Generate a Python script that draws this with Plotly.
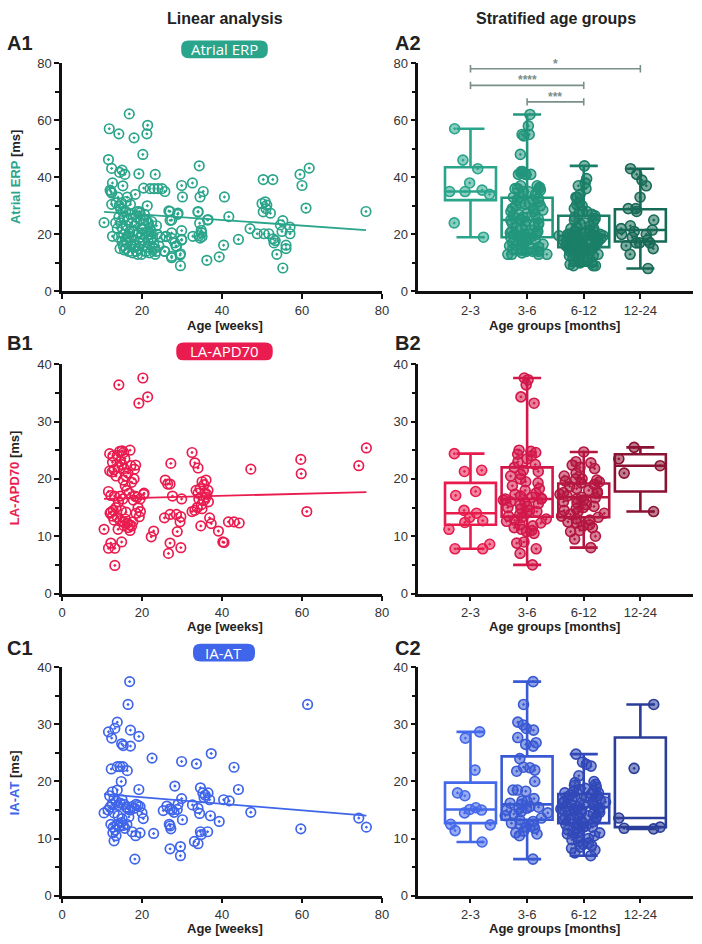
import plotly.graph_objects as go

W, H = 702, 944

# ------------------------------------------------------------------ data
groups = ["2-3", "3-6", "6-12", "12-24"]

# A1: Atrial ERP vs age (weeks, ms)
erp_scatter = [
    (10.5, 24.1), (11.8, 57), (11.6, 46.2), (12.4, 43.1), (12.6, 38), (12.2, 35), (12.4, 34.5), (12.0, 35.5),
    (12.4, 30.5), (12.6, 19.3), (13.4, 24), (14.2, 55.2), (14.4, 41.7), (15.0, 42.5), (15.7, 41), (15.2, 37),
    (16.8, 62.2), (18.0, 53.8), (21.2, 55.2), (21.4, 58.2), (20.2, 48), (19.2, 41.2), (23.3, 41), (20.4, 36.2),
    (22.0, 36), (23.0, 36), (24.0, 36), (25.0, 36), (25.7, 35), (18.3, 34), (21.3, 30), (16.3, 33),
    (13.5, 31), (14.0, 33), (14.3, 30), (14.6, 29), (14.9, 31), (15.2, 28), (15.5, 26), (14.2, 26), (14.7, 24),
    (15.1, 22), (15.4, 20), (15.8, 18), (15.3, 16), (15.6, 14.5), (16.0, 15), (16.3, 17), (16.6, 19), (16.9, 21),
    (16.1, 23), (16.5, 25), (17.0, 27), (17.4, 24), (17.7, 21), (18.0, 18), (18.3, 16), (18.6, 14), (18.9, 13),
    (19.2, 15), (19.4, 17), (19.6, 19), (19.8, 22), (18.5, 26), (18.8, 28), (19.3, 28), (19.7, 25), (20.0, 20),
    (20.3, 18), (20.6, 16), (20.9, 14), (21.2, 15.5), (21.5, 18), (21.8, 20), (22.0, 22), (22.3, 21), (22.6, 19),
    (22.9, 17), (23.1, 15), (23.3, 13), (21.0, 25), (21.6, 24), (22.4, 24.5), (20.6, 27), (17.1, 30.5), (16.0, 31.5),
    (17.3, 16), (16.2, 19), (19.0, 20.5), (20.2, 22), (21.8, 13.5), (22.6, 15.5), (23.5, 14), (23.8, 20), (14.1, 19),
    (13.8, 22), (17.6, 13.5), (19.9, 13), (15.9, 28), (18.1, 23), (19.5, 27.5), (20.8, 20.5), (21.4, 21), (22.2, 18.5),
    (16.7, 14), (17.9, 15.5), (15.0, 17.5), (24.2, 16), (24.5, 19), (23.6, 23), (20.4, 25), (18.7, 24), (17.2, 19),
    (14.5, 15), (27.0, 28), (29.0, 27.4), (27.4, 25), (26.0, 19.3), (27.4, 20.5), (28.2, 17), (29.9, 21.3),
    (25.6, 14.1), (27.4, 11.8), (28.5, 15.9), (29.6, 13.2), (29.6, 9), (29.9, 18.2), (32.7, 19.3), (29.9, 37.1),
    (30.1, 33.1), (32.6, 38), (34.3, 44), (35.3, 35), (34.5, 33.1), (34.0, 28), (34.4, 23.9), (34.9, 20.5),
    (34.5, 18.7), (35.0, 19.2), (34.2, 19.5), (36.4, 25), (36.2, 10.9), (39.3, 12.1), (40.4, 16.2), (40.6, 33.1),
    (41.7, 26.2), (44.1, 18.2), (47.0, 22), (48.8, 20.2), (50.5, 20.2), (52.7, 39.2), (50.3, 39.2), (50.0, 30.8),
    (50.8, 31.4), (51.2, 30.2), (50.3, 27.9), (52.1, 27.4), (51.0, 29), (51.7, 20.2), (53.0, 17), (52.8, 18.4),
    (53.3, 17.8), (53.7, 13), (54.6, 23.3), (55.2, 24.8), (55.0, 21), (55.2, 8.2), (56.0, 16.2), (56.0, 15),
    (57.0, 22.5), (57.0, 20.2), (59.5, 41), (60.0, 37.1), (61.8, 43.2), (61.0, 29.2), (76.0, 28),
    (26.7, 28.2), (28.9, 27), (27.0, 24.9), (25.9, 19.2), (27.4, 18.6), (29.9, 18), (28.6, 15.8), (29.5, 12.7),
    (27.4, 12.3), (25.7, 14), (34.0, 27.8), (36.5, 25.2), (34.8, 21.4),
]
erp_fit = (28.93, -0.0977)  # intercept, slope

# B1: LA-APD70 vs age
apd_scatter = [
    (14.2, 36.4), (20.2, 37.6), (19.2, 33.2), (21.4, 34.3), (17, 25), (14.4, 24.8), (15, 24.9), (15.4, 24.6),
    (11.9, 24.4), (12.7, 24), (13.8, 24.1), (18.4, 22.4), (18.1, 21.7), (17.4, 19.4), (12.6, 22.9), (11.9, 21.4),
    (11.6, 17.8), (12.2, 17.1), (10.5, 11.2), (11.6, 7.9), (13.2, 7.9), (12.2, 8.8), (13.2, 4.9), (14, 11.2),
    (14.9, 9), (20.4, 17.3), (19.6, 14.3), (19.3, 13.4), (22.3, 9.9), (22.9, 10.9), (25.8, 19.8), (26.4, 19.1),
    (27, 19.1), (27.2, 22.7), (27.6, 17), (29.9, 16.5), (25.6, 13.2), (27, 13.8), (28.6, 13.8), (29.7, 13.4),
    (29.5, 12.5), (28.8, 10.8), (27, 8.8), (26.6, 7), (29.7, 8), (32.5, 24.6), (33.2, 22.8), (34, 21.9),
    (32.5, 14.3), (34.7, 11.8), (36.9, 13.2), (37.3, 12.2), (39.1, 10.9), (40.2, 9.0), (40.5, 8.9), (41.6, 12.5),
    (43, 12.5), (44.3, 12.3), (47.2, 21.7), (59.7, 23.4), (59.8, 20.9), (61.2, 14.3), (74.2, 22.3), (76.1, 25.4),
    (12.5, 21.2), (13, 21.6), (13.5, 20.5), (14, 22), (14.5, 23), (15, 22.5), (15.5, 21.8), (16, 20.5),
    (15.3, 19.8), (15.8, 18.8), (16.2, 18), (16.8, 17.5), (14.6, 17), (15.2, 16.5), (14.1, 16), (13.5, 15),
    (12.2, 14.2), (12.6, 13.5), (13, 12.8), (13.8, 13.3), (14.5, 12.7), (15.2, 12.5), (15.8, 13), (16.3, 12.3),
    (16.6, 11.5), (17, 11), (17.4, 11.8), (16, 14.2), (17.8, 16.3), (18.2, 17), (18.8, 16.8), (19.5, 16.5),
    (19, 15), (20.5, 17.5), (17.2, 22.3), (16.5, 21), (18, 20), (15.7, 23.5), (13.1, 17), (12, 14),
    (12.8, 14.5), (14.8, 14.5), (17.7, 12.5), (16.9, 12), (15.5, 11.8), (18.5, 14),
    (33.5, 18), (34, 17.5), (34.5, 18.3), (35, 19.5), (35.5, 19), (36, 19.8), (36.5, 18), (34.2, 16.5),
    (34.8, 15.5), (35.4, 16.2), (36, 16.8), (36.6, 16), (33.8, 15), (35, 14.8), (36.2, 17.3), (35.7, 17.6),
    (33.2, 14.5),
]
apd_fit = (16.31, 0.0183)

# C1: IA-AT vs age
at_scatter = [
    (16.9, 37.5), (16.5, 33.5), (11.6, 28.7), (12.4, 27.6), (13.2, 29.3), (13.8, 30.4), (17.1, 29), (19.2, 27.9),
    (17.1, 26.2), (14.9, 26.6), (15.3, 26.3), (12.3, 22.2), (13.8, 22.6), (14.5, 22.6), (15.2, 22.6), (16.3, 21.9),
    (14.8, 20), (19.2, 18.6), (12.6, 18.2), (11.9, 17.5), (13.8, 18.5), (10.5, 14.5), (13, 9.6), (18.2, 6.4),
    (22.9, 10.9), (22.5, 24.1), (25.3, 14.9), (28.2, 19.2), (29.9, 23.5), (29.9, 17), (30.1, 13.3), (27, 12.2),
    (27.2, 11.7), (27, 8.2), (29.6, 8.6), (29.6, 7), (33.6, 23.1), (32.6, 15.9), (33.1, 9.5), (34, 9.1),
    (34.6, 18.9), (35.2, 18), (35.8, 17.6), (36.5, 18), (36.9, 16.8), (35.5, 17.2), (34.6, 11.2), (34.8, 10.7),
    (36.4, 11.2), (37.3, 24.9), (34, 15.3), (34.4, 14.4), (37.1, 14), (39.3, 13), (40.4, 16.8), (41.8, 16.6),
    (43, 22.5), (44.1, 18.6), (47.2, 14.6), (59.7, 11.7), (61.4, 33.5), (74.2, 13.6), (76.1, 12),
    (11.5, 15), (12, 15.5), (12.5, 16), (13, 17), (13.5, 16.5), (14, 15.8), (14.5, 16.2), (15, 16.8),
    (15.5, 16), (16, 15.5), (16.5, 15.2), (17, 15), (17.5, 15.6), (18, 15.3), (18.5, 16), (19, 15.8),
    (19.5, 15.6), (20, 14.5), (20.3, 13.5), (12.2, 12.5), (12.8, 12), (13.3, 11.5), (13.8, 12.5), (14.3, 12.2),
    (14.8, 12.8), (15.3, 12.3), (15.7, 11.8), (16.2, 12.5), (12.7, 11), (13.5, 10.5), (17.5, 11.2), (18.4, 10.5),
    (19.5, 11), (14, 14), (15, 13.5), (16.7, 13.8), (13, 14.5), (26.2, 15.7), (27, 15.2), (27.5, 15),
    (28, 14.6), (28.8, 15.1), (26.8, 12.5), (29, 16),
]
at_fit = (18.41, -0.0579)

# A2 groups (ms)
erp_g = [
    [57, 46, 43, 38, 35, 35, 35.5, 34, 24, 19],
    [62, 58, 55, 55, 54.5, 48, 42, 42, 41.5, 41, 41, 41, 41, 37, 37, 36.5, 36, 36, 36, 35.5, 35, 35, 34, 33, 33,
     32.5, 32, 32, 31.5, 31, 31, 30.5, 30, 30, 29, 29, 28.5, 28, 28, 27.5, 27, 27, 26.5, 26, 25.5, 25, 25, 25, 24.5,
     24, 24, 23.5, 23, 23, 22.5, 22, 21.5, 21, 21, 21, 20.5, 20, 20, 20, 19.5, 19, 19, 19, 18.5, 18, 18, 17.5, 17,
     17, 16.5, 16, 16, 15.5, 15, 15, 15, 14.5, 14, 14, 14, 13.5, 13, 13, 13, 13],
    [44, 39.5, 38, 37, 36, 34, 33, 33, 31, 30.5, 30, 29, 28, 28, 27, 27, 26.5, 26, 25.5, 25, 24.5, 24, 23.5, 23,
     22.5, 22, 22, 21.5, 21, 21, 21, 20.5, 20.5, 20, 20, 20, 20, 19.5, 19.5, 19.5, 19, 19, 19, 19, 18.5, 18.5,
     18.5, 18, 18, 18, 18, 17.5, 17.5, 17, 17, 17, 17, 16.5, 16.5, 16, 16, 16, 16, 15.5, 15.5, 15.5, 15, 15, 15,
     14.5, 14.5, 14, 14, 14, 13.5, 13, 13, 12.5, 12.5, 12, 12, 11.5, 11, 11, 10.5, 10, 10, 9.5, 9, 9, 9],
    [43, 41, 39, 37, 33, 29, 29, 28, 25, 23, 22, 21.5, 21, 20, 20, 19, 18, 17, 17, 17, 16, 15, 13, 8],
]
erp_stats = {"q1": [32, 19, 15.5, 17.5], "med": [35, 25, 19.5, 21.5], "q3": [43.5, 32.8, 26.5, 28.8],
             "lo": [19, 13, 9, 8], "hi": [57, 62, 44, 43]}
erp_sig = [(0, 3, 78, "*"), (0, 2, 72.2, "****"), (1, 2, 66.4, "***")]

# B2 groups
apd_g = [
    [24.4, 21.5, 21.3, 17.8, 17.1, 14.5, 14, 13.3, 12.7, 12.4, 11.2, 8.6, 7.8, 7.8],
    [37.6, 37.3, 36.4, 34.3, 33.2, 25, 24.8, 24.6, 24.3, 24, 23.5, 23, 22.5, 22, 21.5, 21.3, 20.8, 20.5, 20, 19.5,
     19.3, 18.8, 18.3, 18, 17.5, 17.3, 17, 16.8, 16.6, 16.5, 16.5, 16.3, 16, 16, 15.7, 15.5, 15.2, 15, 14.8, 14.5,
     14.3, 14, 13.8, 13.5, 13.3, 13, 12.8, 12.6, 12.3, 12, 11.8, 11.5, 11.2, 11, 10.8, 10.5, 9, 8.8, 7.8, 7, 5],
    [24.7, 23, 22.8, 22.4, 22, 21.8, 21, 20.5, 20, 20, 19.8, 19.6, 19.5, 19.3, 19, 18.7, 18.3, 18, 17.8, 17.6,
     17.5, 17.3, 17, 16.8, 16.7, 16.5, 16.3, 16, 15.8, 15.5, 15.2, 15, 14.8, 14.5, 14.3, 14, 13.8, 13.5, 13.3, 13,
     12.8, 12.5, 12.3, 12, 11.8, 11.5, 11, 10.8, 10, 9.5, 8],
    [25.5, 23.5, 22.3, 21, 14.3],
]
apd_stats = {"q1": [12, 13.4, 13.3, 17.8], "med": [14, 16.5, 16.8, 22.3], "q3": [19.3, 22, 19.2, 24.3],
             "lo": [7.8, 5, 8, 14.3], "hi": [24.4, 37.6, 24.7, 25.5]}

# C2 groups
at_g = [
    [28.7, 27.6, 22, 18, 17.5, 15.4, 15.1, 15, 14.5, 12.5, 12.4, 11.4, 9.4],
    [37.5, 33.5, 30.4, 29.9, 29.3, 29, 27.7, 26.8, 26.5, 26.2, 24, 22.5, 22.4, 22, 21.8, 20, 18.5, 18.5, 18.3, 17,
     16.6, 16.5, 16.2, 16, 15.6, 15.5, 15.3, 15.2, 15, 14.7, 14.5, 14.3, 14, 13.6, 13.3, 13, 12.7, 12.5, 12.3, 12,
     11.8, 11.3, 11, 10.8, 10.5, 6.4],
    [24.8, 23.4, 23, 22.7, 21, 20, 19.8, 19.5, 19.3, 19, 18.8, 18.6, 18.4, 18.2, 18, 18, 17.8, 17.6, 17.5, 17.4,
     17.2, 17, 17, 16.8, 16.6, 16.5, 16.4, 16.2, 16, 16, 15.9, 15.8, 15.6, 15.5, 15.4, 15.3, 15.2, 15, 15, 14.9,
     14.8, 14.6, 14.5, 14.4, 14.2, 14, 14, 13.8, 13.6, 13.5, 13.3, 13.2, 13, 13, 12.8, 12.6, 12.5, 12.4, 12.2, 12,
     12, 11.8, 11.5, 11.3, 11, 11, 10.8, 10.5, 10.2, 10, 9.8, 9.5, 9.2, 9, 8.8, 8.5, 8.3, 8, 7.5, 7],
    [33.5, 22.3, 13.6, 12, 11.7, 11.8],
]
at_stats = {"q1": [12.7, 13.3, 12.7, 12], "med": [15.1, 16, 15.5, 13.6], "q3": [19.8, 24.4, 17.8, 27.7],
            "lo": [9.4, 6.4, 7, 11.7], "hi": [28.7, 37.5, 24.8, 33.5]}

# ------------------------------------------------------------------ styling
FONT = "Liberation Sans, Arial, sans-serif"
C_ERP = "#2aa58b"
C_APD = "#ea1c4f"
C_AT = "#3f65ea"
erp_cols = ["#2aa58c", "#22967c", "#1b7f68", "#166a56"]
apd_cols = ["#e81b4d", "#d2184a", "#b41640", "#8a1232"]
at_cols = ["#4468ea", "#3a5ad4", "#3149b8", "#2a3d99"]


def hex_rgba(h, a):
    h = h.lstrip("#")
    return "rgba(%d,%d,%d,%.2f)" % (int(h[0:2], 16), int(h[2:4], 16), int(h[4:6], 16), a)


def px_x(p):
    return p / W


def px_y(p):
    return 1 - p / H


fig = go.Figure()

panels = [
    (erp_scatter, erp_fit, C_ERP, erp_g, erp_stats, erp_cols, "x", "y", "x2", "y2"),
    (apd_scatter, apd_fit, C_APD, apd_g, apd_stats, apd_cols, "x3", "y3", "x4", "y4"),
    (at_scatter, at_fit, C_AT, at_g, at_stats, at_cols, "x5", "y5", "x6", "y6"),
]

for sc, fit, col, grp, st, gcols, xl, yl, xr, yr in panels:
    ages = [p[0] for p in sc]
    vals = [p[1] for p in sc]
    fig.add_trace(go.Scatter(
        x=ages, y=vals, mode="markers", xaxis=xl, yaxis=yl,
        marker=dict(symbol="circle-open-dot", size=9.5, color=col, line=dict(width=1.7, color=col)),
        hoverinfo="skip"))
    x0, x1 = min(ages), max(ages)
    fig.add_trace(go.Scatter(
        x=[x0, x1], y=[fit[0] + fit[1] * x0, fit[0] + fit[1] * x1], mode="lines",
        xaxis=xl, yaxis=yl, line=dict(color=col, width=1.8), hoverinfo="skip"))
    for i in range(4):
        fig.add_trace(go.Box(
            y=grp[i], x0=i, width=0.9, boxpoints="all", jitter=1.0, pointpos=0,
            xaxis=xr, yaxis=yr, line=dict(color="rgba(0,0,0,0)", width=0),
            fillcolor="rgba(0,0,0,0)",
            marker=dict(symbol="circle-dot", size=10, color=hex_rgba(gcols[i], 0.55),
                        line=dict(color=gcols[i], width=1.6)),
            hoverinfo="skip"))
        fig.add_trace(go.Box(
            x=[i], q1=[st["q1"][i]], median=[st["med"][i]], q3=[st["q3"][i]],
            lowerfence=[st["lo"][i]], upperfence=[st["hi"][i]],
            width=0.9, whiskerwidth=0.55, boxpoints=False, xaxis=xr, yaxis=yr,
            line=dict(color=gcols[i], width=2.6), fillcolor="rgba(0,0,0,0)", hoverinfo="skip"))

# ------------------------------------------------------------------ axes
axis_common = dict(showline=True, linewidth=2.6, linecolor="#111", ticks="outside", ticklen=5,
                   tickwidth=2.2, tickcolor="#111", showgrid=False, zeroline=False,
                   tickfont=dict(family=FONT, size=13, color="#333"), fixedrange=True)

left_dom = [px_x(59), px_x(384)]
right_dom = [px_x(421), px_x(700)]
ydoms = [[px_y(289), px_y(57)], [px_y(596), px_y(363)], [px_y(903), px_y(671)]]
ymax = [80, 40, 40]
ydt = [20, 10, 10]

layout = dict(width=W, height=H, margin=dict(l=0, r=0, t=0, b=0), paper_bgcolor="white",
              plot_bgcolor="white", showlegend=False, boxmode="overlay",
              font=dict(family=FONT, color="#222"))
for r in range(3):
    nl = 2 * r + 1
    nr = 2 * r + 2
    sl = "" if nl == 1 else str(nl)
    sr = str(nr)
    layout["xaxis" + sl] = dict(axis_common, domain=left_dom, range=[0, 80], dtick=20, tick0=0,
                                anchor="y" + sl)
    layout["yaxis" + sl] = dict(axis_common, domain=ydoms[r], range=[0, ymax[r]], dtick=ydt[r], tick0=0,
                                anchor="x" + sl,
                                minor=dict(ticks="outside", ticklen=4, tickwidth=2, dtick=ydt[r] / 2,
                                           tickcolor="#111"))
    layout["xaxis" + sr] = dict(axis_common, domain=right_dom, range=[-0.92, 3.93],
                                tickvals=[0, 1, 2, 3], ticktext=groups, anchor="y" + sr)
    layout["yaxis" + sr] = dict(axis_common, domain=ydoms[r], range=[0, ymax[r]], dtick=ydt[r], tick0=0,
                                anchor="x" + sr,
                                minor=dict(ticks="outside", ticklen=4, tickwidth=2, dtick=ydt[r] / 2,
                                           tickcolor="#111"))
fig.update_layout(**layout)

# ------------------------------------------------------------------ annotations
ann = []
shapes = []


def text(px, py, s, size, bold=True, color="#222", xanchor="center", angle=0):
    ann.append(dict(x=px_x(px), y=px_y(py), xref="paper", yref="paper", text=("<b>%s</b>" % s) if bold else s,
                    showarrow=False, xanchor=xanchor, yanchor="middle", textangle=angle,
                    font=dict(family=FONT, size=size, color=color)))


text(225, 12, "Linear analysis", 16)
text(561, 12, "Stratified age groups", 16)

for lbl, py in [("A", 37), ("B", 341), ("C", 651)]:
    text(1, py, lbl + "1", 20, xanchor="left")
    text(395, py, lbl + "2", 20, xanchor="left")

for px, py in [(225, 324), (225, 629), (225, 936)]:
    text(px, py, "Age [weeks]", 13)
for px, py in [(559, 324), (559, 629), (559, 936)]:
    text(px, py, "Age groups [months]", 13)

for name, col, py in [("Atrial ERP", C_ERP, 173), ("LA-APD70", C_APD, 478), ("IA-AT", C_AT, 788)]:
    text(11, py, "<span style='color:%s'>%s</span> [ms]" % (col, name), 13, angle=-90)


def badge(x0, y0, x1, y1, col, label):
    r = 7.5
    X = lambda p: px_x(p)
    Y = lambda p: px_y(p)
    path = ("M %f,%f L %f,%f Q %f,%f %f,%f L %f,%f Q %f,%f %f,%f L %f,%f Q %f,%f %f,%f "
            "L %f,%f Q %f,%f %f,%f Z") % (
        X(x0 + r), Y(y0), X(x1 - r), Y(y0), X(x1), Y(y0), X(x1), Y(y0 + r),
        X(x1), Y(y1 - r), X(x1), Y(y1), X(x1 - r), Y(y1),
        X(x0 + r), Y(y1), X(x0), Y(y1), X(x0), Y(y1 - r),
        X(x0), Y(y0 + r), X(x0), Y(y0), X(x0 + r), Y(y0))
    shapes.append(dict(type="path", path=path, xref="paper", yref="paper", fillcolor=col,
                       line=dict(width=0)))
    ann.append(dict(x=X((x0 + x1) / 2), y=Y((y0 + y1) / 2), xref="paper", yref="paper", text=label,
                    showarrow=False, xanchor="center", yanchor="middle",
                    font=dict(family="Open Sans, Liberation Sans, sans-serif", size=15, color="white")))


badge(180, 34, 268, 52, C_ERP, "Atrial ERP")
badge(175, 341, 273, 359, C_APD, "LA-APD70")
badge(192, 647, 255, 665, C_AT, "IA-AT")

SIG = "#7a8f8a"
for g0, g1, yv, stars in erp_sig:
    shapes.append(dict(type="line", xref="x2", yref="y2", x0=g0, x1=g1, y0=yv, y1=yv,
                       line=dict(color=SIG, width=1.6)))
    for g in (g0, g1):
        shapes.append(dict(type="line", xref="x2", yref="y2", x0=g, x1=g, y0=yv - 1.3, y1=yv + 1.3,
                           line=dict(color=SIG, width=1.6)))
    ann.append(dict(x=(g0 + g1) / 2, y=yv, xref="x2", yref="y2", text="<b>%s</b>" % stars, showarrow=False,
                    xanchor="center", yanchor="bottom", yshift=-4,
                    font=dict(family=FONT, size=12, color=SIG)))

fig.update_layout(annotations=ann, shapes=shapes)
fig.write_html("out.html", config={"displayModeBar": False},
               post_script="document.body.style.margin='0';document.body.style.overflow='hidden';")
